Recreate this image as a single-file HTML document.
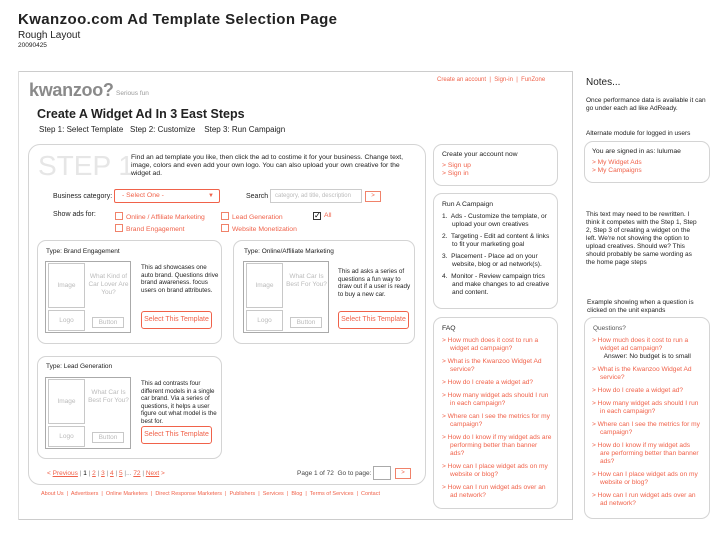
<!DOCTYPE html>
<html><head><meta charset="utf-8"><style>
*{margin:0;padding:0;box-sizing:border-box}
body{width:720px;height:535px;background:#fff;font-family:"Liberation Sans",Arial,sans-serif;color:#222;position:relative;overflow:hidden}
.a{position:absolute}
.o{color:#f0624a}
.g{color:#bbb}
.rb{position:absolute;border:1px solid #d4d4d4;border-radius:9px;background:#fff}
.s{font-size:6.5px;line-height:8px}
.btn{position:absolute;border:1px solid #f0624a;border-radius:3px;color:#f0624a;font-size:7px;text-align:center;line-height:16px}
.cb{display:inline-block;width:8px;height:8px;border:1px solid #f0826a;vertical-align:-1px;margin-right:3px}
.cell{position:absolute;border:1px solid #c8c8c8;color:#bbb;font-size:6.5px;text-align:center}
ul{list-style:none}
.q li{margin-bottom:5px;padding-left:8px;text-indent:-8px}
</style></head><body>
<div class="a" style="left:18px;top:11px;font-size:15px;font-weight:bold;letter-spacing:0.4px">Kwanzoo.com Ad Template Selection Page</div>
<div class="a" style="left:18px;top:30px;font-size:10px">Rough Layout</div>
<div class="a" style="left:18px;top:42px;font-size:6.5px">20090425</div>

<div class="a" style="left:18px;top:71px;width:555px;height:449px;border:1px solid #ccc;border-left:none"></div>
<div class="a" style="left:18px;top:71px;width:1px;height:449px;background:#ddd"></div>
<div class="a" style="left:29px;top:80px;font-size:18px;font-weight:bold;color:#8a8a8a;letter-spacing:-0.3px">kwanzoo?</div>
<div class="a" style="left:116px;top:90px;font-size:6.5px;color:#999">Serious fun</div>
<div class="a o" style="left:437px;top:77px;font-size:6px">Create an account &nbsp;|&nbsp; Sign-in &nbsp;|&nbsp; FunZone</div>
<div class="a" style="left:37px;top:107px;font-size:12.5px;font-weight:bold">Create A Widget Ad In 3 East Steps</div>
<div class="a" style="left:39px;top:125px;font-size:8px">Step 1: Select Template &nbsp;&nbsp;Step 2: Customize &nbsp;&nbsp;&nbsp;Step 3: Run Campaign</div>

<div class="rb" style="left:28px;top:144px;width:398px;height:341px;border-radius:12px"></div>
<div class="a" style="left:38px;top:150px;font-size:28px;color:#e6e6e6">STEP 1</div>
<div class="a s" style="left:131px;top:154px;width:285px;font-size:6.8px">Find an ad template you like, then click the ad to costime it for your business. Change text, image, colors and even add your own logo. You can also upload your own creative for the widget ad.</div>
<div class="a" style="left:53px;top:193px;font-size:7px">Business category:</div>
<div class="a o" style="left:114px;top:189px;width:106px;height:14px;border:1px solid #f0624a;border-radius:2px;font-size:6.8px;line-height:12px;padding-left:7px">- Select One -<span style="position:absolute;right:5px;font-size:6px">▼</span></div>
<div class="a" style="left:246px;top:193px;font-size:7px">Search</div>
<div class="a g" style="left:270px;top:189px;width:92px;height:14px;border:1px solid #ccc;font-size:6px;line-height:12px;padding-left:4px">category, ad title, description</div>
<div class="a o" style="left:365px;top:191px;width:16px;height:11px;border:1px solid #f0826a;font-size:6px;line-height:9px;text-align:center">&gt;</div>
<div class="a" style="left:53px;top:211px;font-size:7px">Show ads for:</div>
<div class="a o" style="left:115px;top:212px;font-size:6.8px"><span class="cb"></span>Online / Affiliate Marketing</div>
<div class="a o" style="left:115px;top:224px;font-size:6.8px"><span class="cb"></span>Brand Engagement</div>
<div class="a o" style="left:221px;top:212px;font-size:6.8px"><span class="cb"></span>Lead Generation</div>
<div class="a o" style="left:221px;top:224px;font-size:6.8px"><span class="cb"></span>Website Monetization</div>
<div class="a o" style="left:313px;top:212px;font-size:6.8px"><span class="cb" style="border-color:#333;color:#000;font-size:8px;line-height:6px">✓</span>All</div>

<div class="rb" style="left:37px;top:240px;width:185px;height:104px"></div>
<div class="a" style="left:46px;top:248px;font-size:6.5px">Type: Brand Engagement</div>
<div class="a" style="left:45px;top:261px;width:86px;height:72px;border:1px solid #aaa"></div>
<div class="cell" style="left:48px;top:263px;width:37px;height:45px;line-height:43px">Image</div>
<div class="cell" style="left:48px;top:310px;width:37px;height:21px;line-height:19px">Logo</div>
<div class="a g s" style="left:86px;top:273px;width:45px;text-align:center">What Kind of Car Lover Are You?</div>
<div class="cell" style="left:92px;top:317px;width:32px;height:11px;line-height:9px">Button</div>
<div class="a" style="left:141px;top:264px;width:78px;font-size:6.3px;line-height:7.6px">This ad showcases one auto brand. Questions drive brand awareness. focus users on brand attributes.</div>
<div class="btn" style="left:141px;top:311px;width:71px;height:18px">Select This Template</div>

<div class="rb" style="left:233px;top:240px;width:182px;height:104px"></div>
<div class="a" style="left:244px;top:248px;font-size:6.5px">Type: Online/Affiliate Marketing</div>
<div class="a" style="left:243px;top:261px;width:86px;height:72px;border:1px solid #aaa"></div>
<div class="cell" style="left:246px;top:263px;width:37px;height:45px;line-height:43px">Image</div>
<div class="cell" style="left:246px;top:310px;width:37px;height:21px;line-height:19px">Logo</div>
<div class="a g s" style="left:284px;top:273px;width:45px;text-align:center">What Car Is Best For You?</div>
<div class="cell" style="left:290px;top:317px;width:32px;height:11px;line-height:9px">Button</div>
<div class="a" style="left:338px;top:268px;width:76px;font-size:6.3px;line-height:7.6px">This ad asks a series of questions a fun way to draw out if a user is ready to buy a new car.</div>
<div class="btn" style="left:338px;top:311px;width:71px;height:18px">Select This Template</div>

<div class="rb" style="left:37px;top:356px;width:185px;height:103px"></div>
<div class="a" style="left:46px;top:363px;font-size:6.5px">Type: Lead Generation</div>
<div class="a" style="left:45px;top:377px;width:86px;height:72px;border:1px solid #aaa"></div>
<div class="cell" style="left:48px;top:379px;width:37px;height:45px;line-height:43px">Image</div>
<div class="cell" style="left:48px;top:426px;width:37px;height:21px;line-height:19px">Logo</div>
<div class="a g s" style="left:86px;top:389px;width:45px;text-align:center">What Car Is Best For You?</div>
<div class="cell" style="left:92px;top:432px;width:32px;height:11px;line-height:9px">Button</div>
<div class="a" style="left:141px;top:380px;width:80px;font-size:6.2px;line-height:7.5px">This ad contrasts four different models in a single car brand. Via a series of questions, it helps a user figure out what model is the best for.</div>
<div class="btn" style="left:141px;top:426px;width:71px;height:18px">Select This Template</div>

<div class="a" style="left:47px;top:470px;font-size:6.5px;color:#888"><span class="o">&lt; <u>Previous</u></span> | <span style="color:#000">1</span> | <u class="o">2</u> | <u class="o">3</u> | <u class="o">4</u> | <u class="o">5</u> |... <u class="o">72</u> | <span class="o"><u>Next</u> &gt;</span></div>
<div class="a" style="left:297px;top:470px;font-size:6.5px;color:#444">Page 1 of 72 &nbsp;Go to page:</div>
<div class="a" style="left:373px;top:466px;width:18px;height:14px;border:1px solid #aaa"></div>
<div class="a o" style="left:395px;top:468px;width:16px;height:11px;border:1px solid #f0826a;font-size:6px;line-height:9px;text-align:center">&gt;</div>
<div class="a o" style="left:41px;top:491px;font-size:5.5px;white-space:nowrap">About Us &nbsp;|&nbsp; Advertisers &nbsp;|&nbsp; Online Marketers &nbsp;|&nbsp; Direct Response Marketers &nbsp;|&nbsp; Publishers &nbsp;|&nbsp; Services &nbsp;|&nbsp; Blog &nbsp;|&nbsp; Terms of Services &nbsp;|&nbsp; Contact</div>

<div class="rb" style="left:433px;top:144px;width:125px;height:42px"></div>
<div class="a s" style="left:442px;top:151px;font-size:6.8px">Create your account now</div>
<div class="a o s" style="left:442px;top:162px;font-size:6.8px">&gt; Sign up<br>&gt; Sign in</div>
<div class="rb" style="left:433px;top:193px;width:125px;height:116px"></div>
<div class="a" style="left:442px;top:201px;font-size:6.8px">Run A Campaign</div>
<div class="a s" style="left:442px;top:213px;width:112px;font-size:6.6px">
<div style="padding-left:10px;text-indent:-10px;margin-bottom:4px">1.&nbsp; Ads - Customize the template, or upload your own creatives</div>
<div style="padding-left:10px;text-indent:-10px;margin-bottom:4px">2.&nbsp; Targeting - Edit ad content &amp; links to fit your marketing goal</div>
<div style="padding-left:10px;text-indent:-10px;margin-bottom:4px">3.&nbsp; Placement - Place ad on your website, blog or ad network(s).</div>
<div style="padding-left:10px;text-indent:-10px">4.&nbsp; Monitor - Review campaign trics and make changes to ad creative and content.</div></div>
<div class="rb" style="left:433px;top:317px;width:125px;height:192px"></div>
<div class="a" style="left:442px;top:325px;font-size:6.8px">FAQ</div>
<ul class="a o s q" style="left:442px;top:337px;width:110px;font-size:6.6px">
<li>&gt; How much does it cost to run a widget ad campaign?</li>
<li>&gt; What is the Kwanzoo Widget Ad service?</li>
<li>&gt; How do I create a widget ad?</li>
<li>&gt; How many widget ads should I run in each campaign?</li>
<li>&gt; Where can I see the metrics for my campaign?</li>
<li>&gt; How do I know if my widget ads are performing better than banner ads?</li>
<li>&gt; How can I place widget ads on my website or blog?</li>
<li>&gt; How can I run widget ads over an ad network?</li></ul>

<div class="a" style="left:586px;top:77px;font-size:10px">Notes...</div>
<div class="a s" style="left:586px;top:97px;width:120px">Once performance data is available it can go under each ad like AdReady.</div>
<div class="a s" style="left:586px;top:130px">Alternate module for logged in users</div>
<div class="rb" style="left:584px;top:141px;width:126px;height:42px"></div>
<div class="a s" style="left:592px;top:148px;font-size:6.8px">You are signed in as: lulumae</div>
<div class="a o s" style="left:592px;top:159px;font-size:6.6px">&gt; My Widget Ads<br>&gt; My Campaigns</div>
<div class="a s" style="left:586px;top:211px;width:116px">This text may need to be rewritten. I think it competes with the Step 1, Step 2, Step 3 of creating a widget on the left. We're not showing the option to upload creatives. Should we? This should probably be same wording as the home page steps</div>
<div class="a s" style="left:587px;top:299px;width:125px">Example showing when a question is clicked on the unit expands</div>
<div class="rb" style="left:584px;top:317px;width:126px;height:202px"></div>
<div class="a s" style="left:593px;top:325px;color:#555">Questions?</div>
<ul class="a o s q" style="left:592px;top:337px;width:108px;font-size:6.6px">
<li>&gt; How much does it cost to run a widget ad campaign?<br><span style="color:#222">&nbsp;&nbsp;Answer: No budget is to small</span></li>
<li>&gt; What is the Kwanzoo Widget Ad service?</li>
<li>&gt; How do I create a widget ad?</li>
<li>&gt; How many widget ads should I run in each campaign?</li>
<li>&gt; Where can I see the metrics for my campaign?</li>
<li>&gt; How do I know if my widget ads are performing better than banner ads?</li>
<li>&gt; How can I place widget ads on my website or blog?</li>
<li>&gt; How can I run widget ads over an ad network?</li></ul>
</body></html>
